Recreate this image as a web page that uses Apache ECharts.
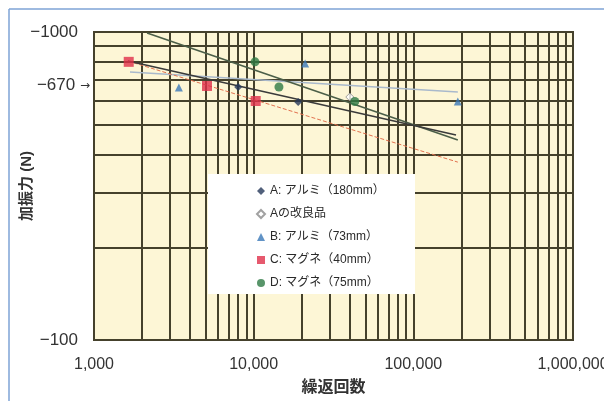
<!DOCTYPE html>
<html><head><meta charset="utf-8">
<script src="https://cdn.jsdelivr.net/npm/echarts@6/dist/echarts.min.js"></script>
<style>html,body{margin:0;padding:0;background:#fff}#c{width:604px;height:401px}</style>
</head><body><div id="c"></div>
<script>
// ---- data ----
const xTicks = [1000, 10000, 100000, 1000000];
const yTicks = [100, 670, 1000];
const xMinor = [2000,3000,4000,5000,6000,7000,8000,9000,
                20000,30000,40000,50000,60000,70000,80000,90000,
                200000,300000,400000,500000,600000,700000,800000,900000];
const yMinor = [200,300,400,500,600,700,800,900];
const seriesNames = ['A: アルミ（180mm）','Aの改良品','B: アルミ（73mm）','C: マグネ（40mm）','D: マグネ（75mm）'];
const ptsA  = [[8000,663],[19000,593]];
const ptsAi = [[40000,615]];
const ptsB  = [[3400,660],[21000,790],[190000,595]];
const ptsC  = [[1650,800],[5100,668],[10300,597]];
const ptsD  = [[10200,800],[14400,663],[43000,595]];
const fitA  = [[1630,805],[185000,463]];
const fitB  = [[1680,741],[190000,639]];
const fitC  = [[1630,805],[190000,378]];
const fitD  = [[2150,992],[190000,446]];

// ---- chart ----
const FONT = "'Liberation Sans','Noto Sans CJK JP',sans-serif";
const GRID = '#45412c';
const chart = echarts.init(document.getElementById('c'), null, {renderer:'canvas'});
const fitLine = (data, color, width, type, z) => ({
  type:'line', data, showSymbol:false, symbol:'none', silent:true, z,
  lineStyle:{color, width, type}, animation:false
});
const scatter = (name, data, symbol, color, size, extra) => ({
  name, type:'scatter', data, symbol, symbolSize:size, z:10, animation:false,
  itemStyle:Object.assign({color}, extra||{})
});
chart.setOption({
  animation:false,
  backgroundColor:'#fff',
  grid:{left:94, right:31, top:32, bottom:61, show:true, backgroundColor:'#fdf6d6',
        borderColor:GRID, borderWidth:2, containLabel:false, outerBoundsMode:'none'},
  xAxis:{type:'log', logBase:10, min:1000, max:1000000,
    name:'繰返回数', nameLocation:'middle', nameGap:40, nameMoveOverlap:false,
    nameTextStyle:{fontSize:16, color:'#333', fontFamily:FONT, fontWeight:'bold'},
    axisLine:{show:false}, axisTick:{show:false},
    axisLabel:{margin:17, fontSize:16, color:'#333', fontFamily:FONT,
      formatter:v=>Math.round(v).toLocaleString('en-US')},
    splitLine:{show:true, lineStyle:{color:GRID, width:2}}
  },
  yAxis:{type:'log', logBase:10, min:100, max:1000,
    name:'加振力 (N)', nameLocation:'middle', nameGap:60, nameRotate:90, nameMoveOverlap:false,
    nameTextStyle:{fontSize:15, color:'#333', fontFamily:FONT, fontWeight:'bold'},
    axisLine:{show:false}, axisTick:{show:false},
    axisLabel:{customValues:yTicks, margin:4, fontFamily:FONT,
      formatter:v=>{const r=Math.round(v); return r===670 ? '{t|−670 }{ar|→}' : '{t|−'+r+'}{sp| }';},
      rich:{t:{fontSize:17, color:'#333', fontFamily:FONT},
            ar:{fontSize:12, color:'#333', fontFamily:"'DejaVu Sans',sans-serif"},
            sp:{width:12}}},
    splitLine:{show:true, lineStyle:{color:GRID, width:2}}
  },
  legend:{orient:'vertical', left:251, top:180, itemGap:11, itemWidth:8, itemHeight:8, z:30,
    data:seriesNames, textStyle:{fontSize:12, color:'#2a2a2a', fontFamily:FONT}},
  graphic:[
    {type:'rect', z:20, shape:{x:208, y:174, width:207, height:120}, style:{fill:'#fff'}},
    {type:'line', z:20, shape:{x1:9, y1:9, x2:604, y2:9}, style:{stroke:'#7ea3d6', lineWidth:1.5}},
    {type:'line', z:20, shape:{x1:9, y1:9, x2:9, y2:401}, style:{stroke:'#7ea3d6', lineWidth:1.5}}
  ],
  series:[
    {type:'line', data:[], silent:true, z:1,
     markLine:{silent:true, symbol:['none','none'], label:{show:false}, animation:false,
       lineStyle:{type:'solid', color:GRID, width:2},
       emphasis:{disabled:true},
       data:xMinor.map(v=>({xAxis:v})).concat(yMinor.map(v=>({yAxis:v})))}},
    fitLine(fitB, '#a9b9cc', 1.5, 'solid', 8),
    fitLine(fitC, '#e2714f', 1, 'dashed', 8),
    fitLine(fitD, '#4b5e48', 1.6, 'solid', 8),
    fitLine(fitA, '#3a3a3a', 1.6, 'solid', 8),
    scatter(seriesNames[0], ptsA, 'diamond', '#26385a', 8),
    scatter(seriesNames[1], ptsAi, 'diamond', '#ffffff', 8, {borderColor:'#8a8a8a', borderWidth:1}),
    scatter(seriesNames[2], ptsB, 'triangle', '#3a78b8', 8),
    scatter(seriesNames[3], ptsC, 'rect', '#e0304a', 10),
    scatter(seriesNames[4], ptsD, 'circle', '#2e7a45', 9)
  ]
});
</script></body></html>
